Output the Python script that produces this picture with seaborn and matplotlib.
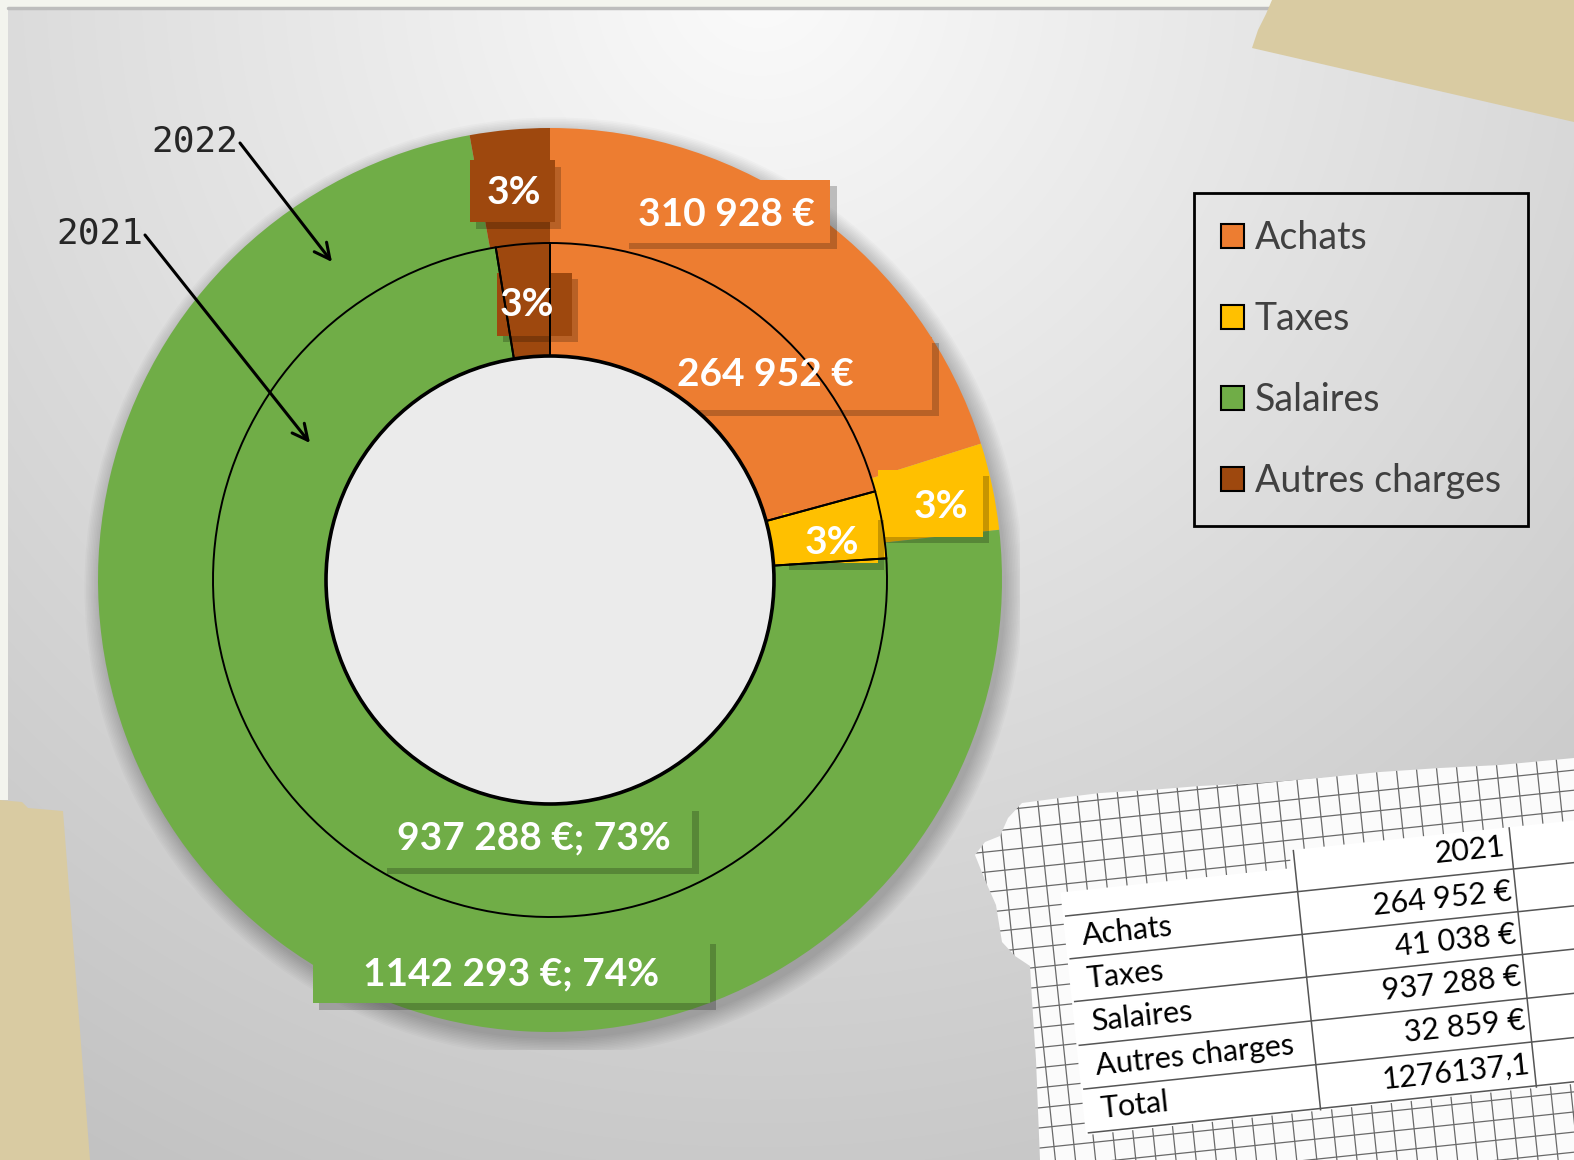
import numpy as np
import matplotlib
matplotlib.use("Agg")
import matplotlib.pyplot as plt
import matplotlib.patheffects as pe
from matplotlib.patches import Polygon, Rectangle, Circle
from matplotlib.collections import LineCollection
from matplotlib.transforms import Affine2D
import seaborn as sns

# ---------------- data ----------------
categories = ["Achats", "Taxes", "Salaires", "Autres charges"]
values_2021 = [264952, 41038, 937288, 32859]
values_2022 = [310928, 48000, 1142293, 44000]
labels_2021 = ["264 952 €", "3%", "937 288 €; 73%", "3%"]
labels_2022 = ["310 928 €", "3%", "1142 293 €; 74%", "3%"]
series_names = ["2021", "2022"]
table_header = "2021"
table_rows = ["Achats", "Taxes", "Salaires", "Autres charges", "Total"]
table_values = ["264 952 €", "41 038 €", "937 288 €", "32 859 €", "1276137,1"]

# ---------------- style ----------------
sns.set_theme(style="white")
plt.rcParams["font.family"] = ["Lato", "DejaVu Sans"]
palette = sns.color_palette(["#ED7D31", "#FFC000", "#70AD47", "#9E480E"])

W, H = 1574, 1160
fig = plt.figure(figsize=(W / 100, H / 100), dpi=100)

# ---------------- background (pixel coordinates) ----------------
bg = fig.add_axes([0, 0, 1, 1], zorder=0)
yy, xx = np.mgrid[0:H, 0:W]
d = np.hypot(xx - 760, yy + 20)
v = np.clip(251 - 0.042 * d, 190, 252) / 255
bg.imshow(np.dstack([v, v, v]), extent=(0, W, H, 0), interpolation="bilinear", zorder=0)
bg.set_xlim(0, W)
bg.set_ylim(H, 0)
bg.set_aspect("auto")
bg.axis("off")

page = "#f3f4ee"
bg.add_patch(Rectangle((0, 0), 8, 800, fc=page, ec="none", zorder=1))
bg.add_patch(Rectangle((0, 0), 1280, 7, fc=page, ec="none", zorder=1))
bg.plot([8, W], [8, 8], color="#bdbdbd", lw=2.5, zorder=1)

tape = "#d9cba2"
bg.add_patch(Polygon([(1272, 0), (W, 0), (W, 122), (1252, 48), (1258, 30), (1266, 14)],
                     closed=True, fc=tape, ec="none", zorder=5))
bg.add_patch(Polygon([(0, 800), (22, 802), (28, 808), (63, 811), (90, H), (0, H)],
                     closed=True, fc=tape, ec="none", zorder=5))

# torn graph paper
paper_pts = [(975, 855), (985, 842), (1000, 836), (1008, 818), (1022, 803), (1060, 798),
             (1100, 793), (1150, 790), (1200, 786), (1260, 783), (1320, 778), (1380, 772),
             (1440, 768), (1500, 765), (W, 758), (W, H), (1040, H), (1036, 1060),
             (1032, 1000), (1030, 966), (1015, 956), (1002, 942), (996, 905), (985, 880)]
paper = Polygon(paper_pts, closed=True, fc="#fbfbfb", ec="none", zorder=2)
bg.add_patch(paper)

rot = Affine2D().rotate_deg_around(1300, 1000, -6) + bg.transData
grid_segs = []
for gx in np.arange(940, 1720, 20):
    grid_segs.append([(gx, 700), (gx, 1250)])
for gy in np.arange(700, 1250, 20):
    grid_segs.append([(900, gy), (1720, gy)])
grid = LineCollection(grid_segs, colors="#6a6a6a", linewidths=0.9, transform=rot, zorder=3)
grid.set_clip_path(paper)
bg.add_collection(grid)

white = Polygon([(1073, 868), (1305, 868), (1305, 850), (1720, 850), (1720, 1112), (1073, 1112)],
                closed=True, fc="white", ec="none", transform=rot, zorder=4)
white.set_clip_path(paper)
bg.add_patch(white)

row_y = [914, 957, 1000, 1044, 1088]
sep_y = [892, 935, 978, 1022, 1066, 1110]
tlines = [[(1075, y), (1720, y)] for y in sep_y]
tlines += [[(1309, 850), (1309, 1112)], [(1526, 850), (1526, 1112)]]
tl = LineCollection(tlines, colors="#555555", linewidths=1.1, transform=rot, zorder=5)
tl.set_clip_path(paper)
bg.add_collection(tl)

bg.text(1520, 869, table_header, transform=rot, rotation=6, rotation_mode="anchor",
        ha="right", va="center", fontsize=22, color="black", zorder=6)
for lab, val, y in zip(table_rows, table_values, row_y):
    bg.text(1090, y, lab, transform=rot, rotation=6, rotation_mode="anchor",
            ha="left", va="center", fontsize=22, color="black", zorder=6)
    bg.text(1522, y, val, transform=rot, rotation=6, rotation_mode="anchor",
            ha="right", va="center", fontsize=22, color="black", zorder=6)

# ---------------- doughnut ----------------
cx, cy, half = 550, 580, 470
pie_ax = fig.add_axes([(cx - half) / W, (H - cy - half) / H, 2 * half / W, 2 * half / H], zorder=1)

for k in range(12):
    pie_ax.add_patch(Circle((4, -7), 452 + 1.6 * k, fc="black", ec="none", alpha=0.018, zorder=0))

r_out, r_mid, r_in = 452, 337, 224
pie_ax.pie(values_2022, radius=r_out, colors=palette, startangle=90, counterclock=False,
           wedgeprops=dict(width=r_out - r_mid, edgecolor="none", linewidth=0))
pie_ax.pie(values_2021, radius=r_mid, colors=palette, startangle=90, counterclock=False,
           wedgeprops=dict(width=r_mid - r_in, edgecolor="none", linewidth=0))
# hole and inner-ring outlines drawn above the label boxes (as in the original)
pie_ax.add_patch(Circle((0, 0), r_in, fc="#ebebeb", ec="black", lw=2.6, zorder=3.5))
pie_ax.pie(values_2021, radius=r_mid, startangle=90, counterclock=False,
           wedgeprops=dict(width=r_mid - r_in, fill=False, edgecolor="black", linewidth=1.4,
                           zorder=3.6))
pie_ax.set_xlim(-half, half)
pie_ax.set_ylim(-half, half)
pie_ax.axis("off")

# label placement (text centre, box centre, box size) in pixels relative to the centre
label_pos_2022 = [(176, 369), (391, 76), (-39, -391), (-36, 390)]
box_pos_2022 = [(176, 369), (380, 77), (-39, -390), (-38, 389)]
box_size_2022 = [(208, 63), (105, 67), (397, 66), (85, 62)]
label_pos_2021 = [(215, 208), (282, 41), (-16, -255), (-23, 278)]
box_pos_2021 = [(216, 207), (280, 42), (-14, -256), (-16, 276)]
box_size_2021 = [(332, 73), (95, 50), (312, 63), (75, 63)]

shadow = [pe.SimplePatchShadow(offset=(5, -5), shadow_rgbFace="black", alpha=0.22), pe.Normal()]
for labs, poss, bposs, bsizes in ((labels_2022, label_pos_2022, box_pos_2022, box_size_2022),
                                  (labels_2021, label_pos_2021, box_pos_2021, box_size_2021)):
    for lab, (x, y), (bx, by), (bw, bh), col in zip(labs, poss, bposs, bsizes, palette):
        r = Rectangle((bx - bw / 2, by - bh / 2), bw, bh, fc=col, ec="none", zorder=3)
        r.set_path_effects(shadow)
        pie_ax.add_patch(r)
        pie_ax.text(x, y - 3, lab, ha="center", va="center", color="white", fontsize=28,
                    fontweight="bold", zorder=4)

# ---------------- legend ----------------
handles = [Rectangle((0, 0), 1, 1, fc=c, ec="black", lw=1.5) for c in palette]
leg = fig.legend(handles, categories, loc="upper left", bbox_to_anchor=(1194 / W, 1 - 193 / H),
                 frameon=True, fontsize=27, labelcolor="#404040", handlelength=0.6,
                 handleheight=0.6, handletextpad=0.3, labelspacing=1.2, borderpad=0.72,
                 borderaxespad=0, fancybox=False, edgecolor="black", facecolor="none",
                 framealpha=1)
leg.get_frame().set_linewidth(2)

# ---------------- annotations ----------------
ov = fig.add_axes([0, 0, 1, 1], zorder=3)
ov.set_xlim(0, W)
ov.set_ylim(H, 0)
ov.axis("off")
ov.text(195, 142, series_names[1], family="DejaVu Sans Mono", fontsize=26, ha="center", va="center")
ov.text(100, 233, series_names[0], family="DejaVu Sans Mono", fontsize=26, ha="center", va="center")
arrow = dict(arrowstyle="->", lw=2.2, color="black", mutation_scale=28, shrinkA=0, shrinkB=0)
ov.annotate("", xy=(332, 262), xytext=(240, 143), arrowprops=arrow)
ov.annotate("", xy=(310, 443), xytext=(145, 235), arrowprops=arrow)

fig.savefig("out.png", dpi=100)
